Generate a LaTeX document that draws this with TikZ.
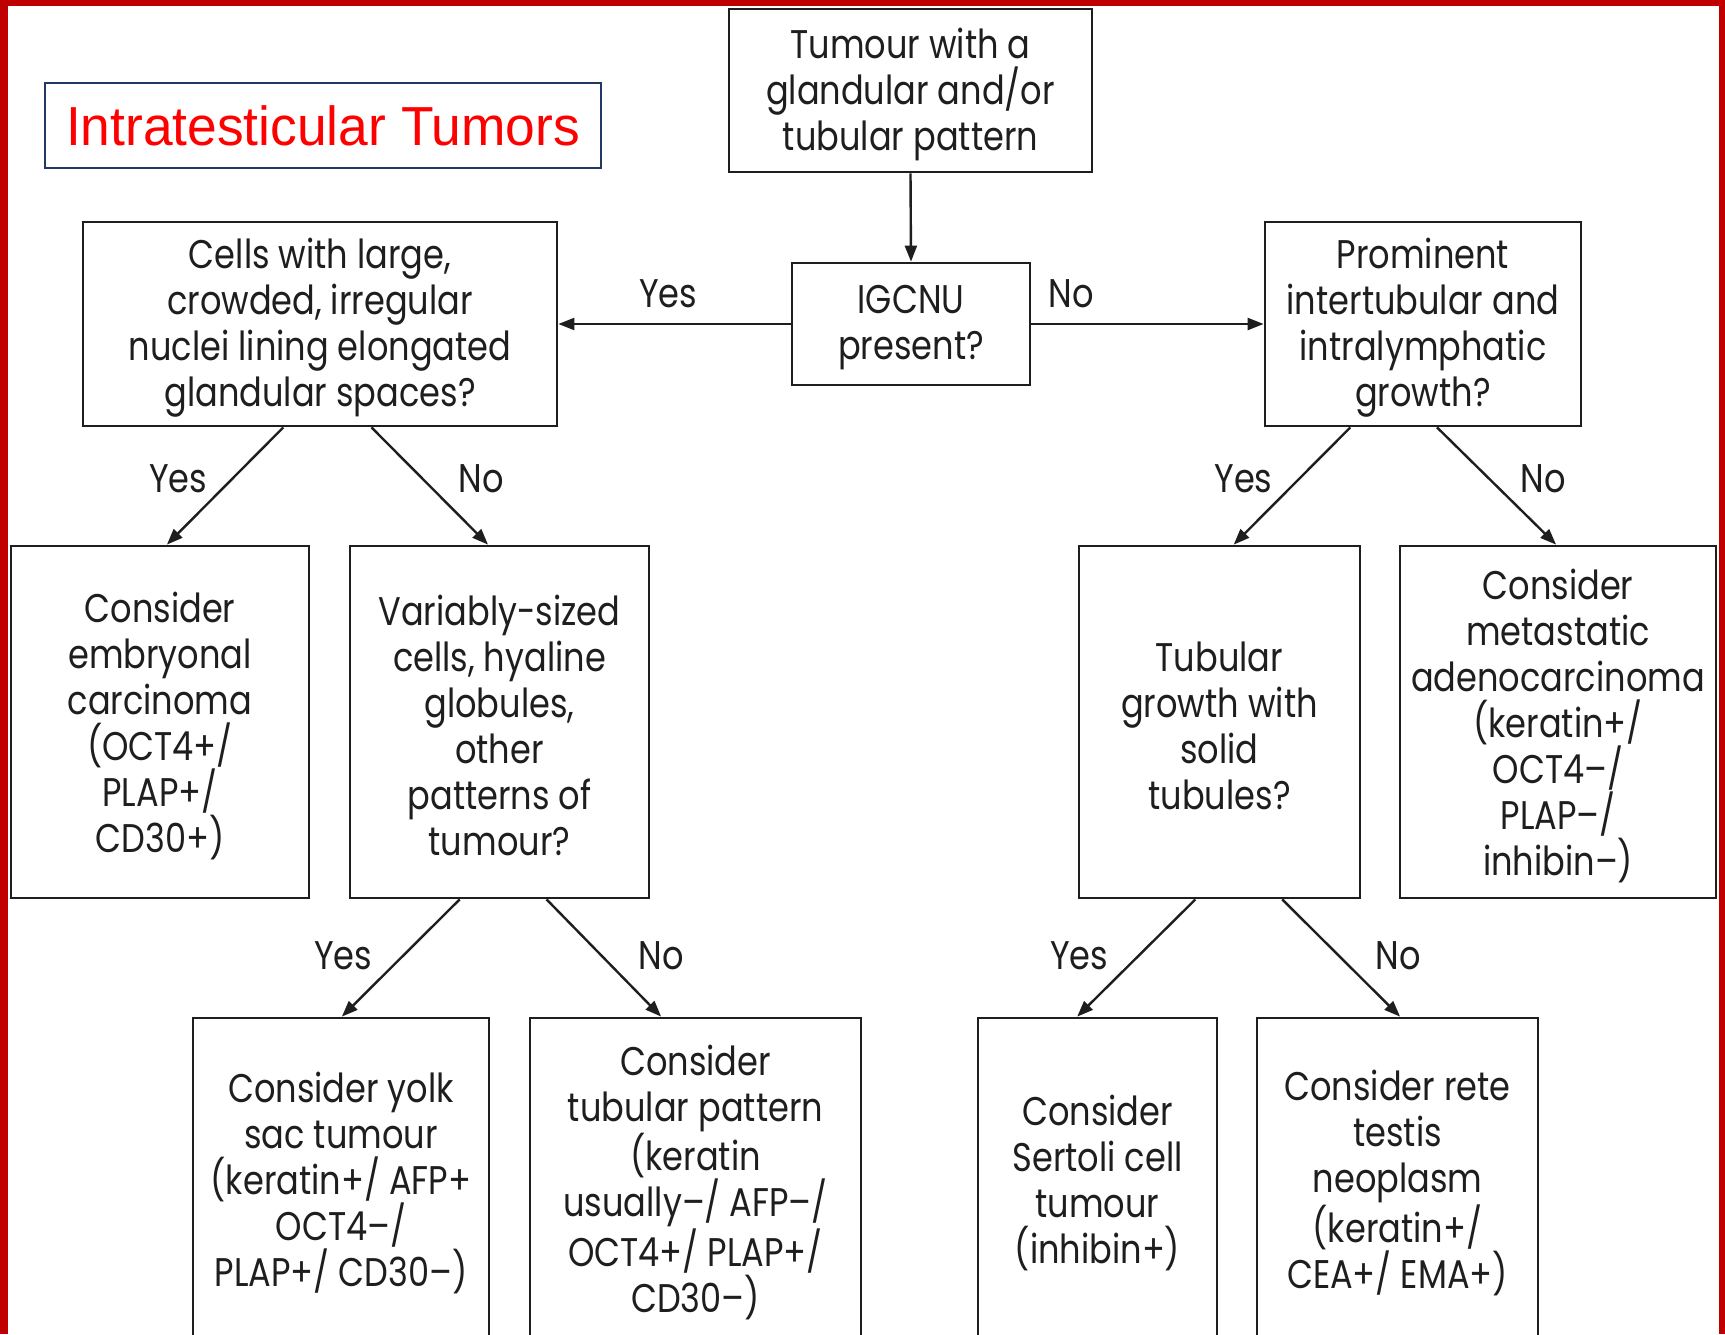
\documentclass[tikz,border=0pt]{standalone}
\usepackage{fontspec}
\usetikzlibrary{arrows.meta,calc}
\newfontfamily\boxfont[FakeStretch=0.84]{Poppins}
\newfontfamily\titlefont[FakeStretch=0.97]{Liberation Sans}
\definecolor{bordred}{HTML}{C00000}
\definecolor{navyb}{HTML}{1F3864}
\definecolor{ink}{HTML}{1E1E1E}
\begin{document}
\begin{tikzpicture}[x=0.5pt,y=-0.5pt,
  box/.style={draw=ink, line width=1.4pt, inner sep=0pt},
  txt/.style={align=center, text=ink, inner sep=0pt, yshift=-1.8pt,
    font=\boxfont\fontsize{20}{23}\selectfont},
  arr/.style={draw=ink, line width=1.2pt, -{Triangle[length=8pt,width=6pt]}},
  lab/.style={text=ink, font=\boxfont\fontsize{20}{23}\selectfont, inner sep=0pt, anchor=base}]
\useasboundingbox (0,0) rectangle (1725,1334);
\clip (0,0) rectangle (1725,1334);
\fill[white] (0,0) rectangle (1725,1334);

% title
\node[draw=navyb, line width=1pt, minimum width=277.75pt, minimum height=42.5pt, inner sep=0pt,
  text=red, font=\titlefont\fontsize{27.5}{30}\selectfont] (title) at (323,125.5) {Intratesticular Tumors};

% boxes
\node[box, minimum width=181.5pt, minimum height=81.5pt,
  label={[txt]center:{Tumour with a\\glandular and/or\\tubular pattern}}] (T) at (910.5,90.5) {};
\node[box, minimum width=119pt, minimum height=61pt,
  label={[txt]center:{IGCNU\\present?}}] (I) at (911,324) {};
\node[box, minimum width=237pt, minimum height=102pt,
  label={[txt]center:{Cells with large,\\crowded, irregular\\nuclei lining elongated\\glandular spaces?}}] (L) at (320,324) {};
\node[box, minimum width=158pt, minimum height=102pt,
  label={[txt]center:{Prominent\\intertubular and\\intralymphatic\\growth?}}] (R) at (1423,324) {};
\node[box, minimum width=149pt, minimum height=176pt,
  label={[txt]center:{Consider\\embryonal\\carcinoma\\(OCT4+/\\PLAP+/\\CD30+)}}] (E) at (160,722) {};
\node[box, minimum width=149.5pt, minimum height=176pt,
  label={[txt]center:{Variably-sized\\cells, hyaline\\globules,\\other\\patterns of\\tumour?}}] (V) at (499.5,722) {};
\node[box, minimum width=140.5pt, minimum height=176pt,
  label={[txt]center:{Tubular\\growth with\\solid\\tubules?}}] (TG) at (1219.5,722) {};
\node[box, minimum width=158pt, minimum height=176pt,
  label={[txt]center:{Consider\\metastatic\\adenocarcinoma\\(keratin+/\\OCT4–/\\PLAP–/\\inhibin–)}}] (M) at (1558,722) {};
\node[box, minimum width=148pt, minimum height=161pt,
  label={[txt]center:{Consider yolk\\sac tumour\\(keratin+/ AFP+\\OCT4–/\\PLAP+/ CD30–)}}] (Y) at (341,1179) {};
\node[box, minimum width=165.5pt, minimum height=161pt,
  label={[txt]center:{Consider\\tubular pattern\\(keratin\\usually–/ AFP–/\\OCT4+/ PLAP+/\\CD30–)}}] (TP) at (695.5,1179) {};
\node[box, minimum width=119.5pt, minimum height=161pt,
  label={[txt]center:{Consider\\Sertoli cell\\tumour\\(inhibin+)}}] (S) at (1097.5,1179) {};
\node[box, minimum width=140.5pt, minimum height=161pt,
  label={[txt]center:{Consider rete\\testis\\neoplasm\\(keratin+/\\CEA+/ EMA+)}}] (RT) at (1397.5,1179) {};

% connectors
\draw[arr] (T.south) -- (I.north);
\draw[arr] (I.west) -- (L.east);
\draw[arr] (I.east) -- (R.west);
\draw[arr] ($(L.south west)!0.423!(L.south east)$) -- ($(E.north west)!0.523!(E.north east)$);
\draw[arr] ($(L.south west)!0.608!(L.south east)$) -- ($(V.north west)!0.462!(V.north east)$);
\draw[arr] ($(R.south west)!0.272!(R.south east)$) -- ($(TG.north west)!0.55!(TG.north east)$);
\draw[arr] ($(R.south west)!0.544!(R.south east)$) -- ($(M.north west)!0.494!(M.north east)$);
\draw[arr] ($(V.south west)!0.368!(V.south east)$) -- ($(Y.north west)!0.503!(Y.north east)$);
\draw[arr] ($(V.south west)!0.656!(V.south east)$) -- ($(TP.north west)!0.397!(TP.north east)$);
\draw[arr] ($(TG.south west)!0.415!(TG.south east)$) -- ($(S.north west)!0.416!(S.north east)$);
\draw[arr] ($(TG.south west)!0.721!(TG.south east)$) -- ($(RT.north west)!0.509!(RT.north east)$);

% labels
\node[lab] (y0) at (668,307) {Yes};
\node[lab] (n0) at (1071,307) {No};
\node[lab] (y1) at (178,492) {Yes};
\node[lab] (n1) at (481,492) {No};
\node[lab] (y2) at (1243.5,492) {Yes};
\node[lab] (n2) at (1543,492) {No};
\node[lab] (y3) at (343,969) {Yes};
\node[lab] (n3) at (661,969) {No};
\node[lab] (y4) at (1079,969) {Yes};
\node[lab] (n4) at (1398,969) {No};

% frame
\fill[bordred] (0,0) rectangle (1725,6);
\fill[bordred] (0,0) rectangle (8,1334);
\fill[bordred] (1719,0) rectangle (1725,1334);
\end{tikzpicture}
\end{document}
